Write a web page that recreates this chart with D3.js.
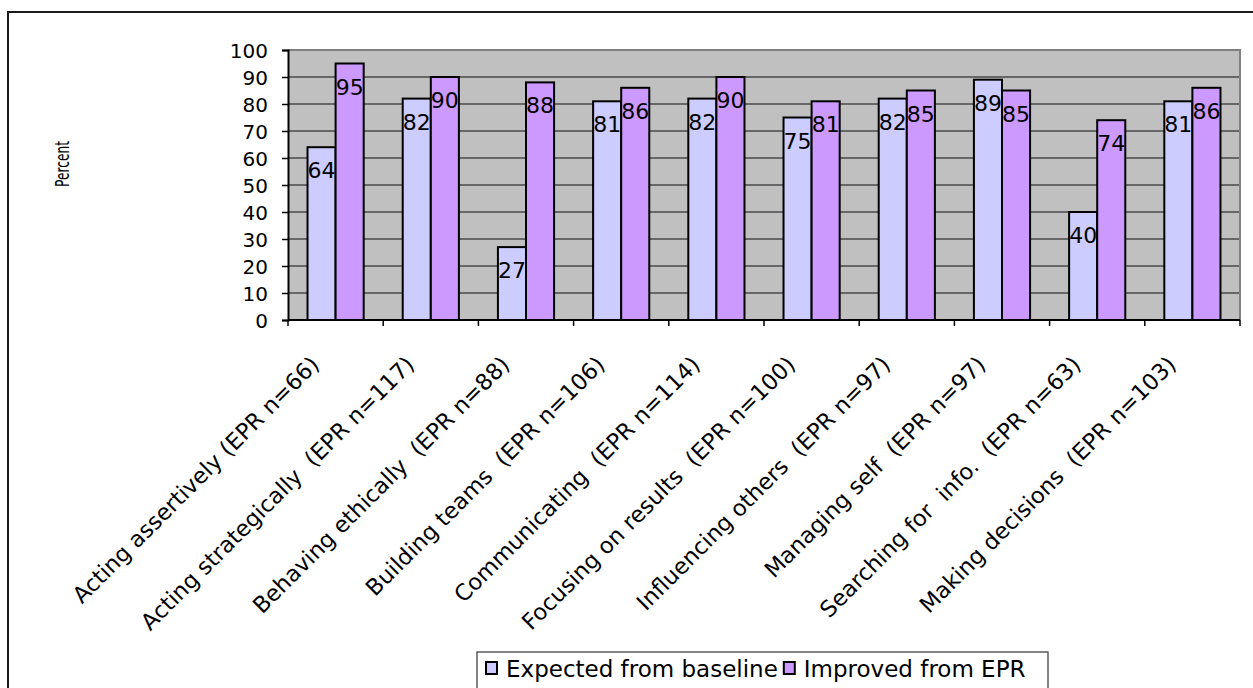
<!DOCTYPE html>
<html>
<head>
<meta charset="utf-8">
<script src="https://cdn.jsdelivr.net/npm/d3@7"></script>
<style>
  html, body { margin: 0; padding: 0; background: #fff; }
  svg { display: block; font-family: "DejaVu Sans", Verdana, sans-serif; }
  text { white-space: pre; }
</style>
</head>
<body>
<svg id="chart" width="1253" height="688"></svg>
<script>
// Competency categories (x axis)
const categories = [
  "Acting assertively (EPR n=66)",
  "Acting strategically  (EPR n=117)",
  "Behaving ethically  (EPR n=88)",
  "Building teams  (EPR n=106)",
  "Communicating  (EPR n=114)",
  "Focusing on results  (EPR n=100)",
  "Influencing others  (EPR n=97)",
  "Managing self  (EPR n=97)",
  "Searching for  info.  (EPR n=63)",
  "Making decisions  (EPR n=103)"
];
// Series values (percent)
const expectedFromBaseline = [64, 82, 27, 81, 82, 75, 82, 89, 40, 81];
const improvedFromEPR      = [95, 90, 88, 86, 90, 81, 85, 85, 74, 86];
const seriesNames = ["Expected from baseline", "Improved from EPR"];
const seriesColors = ["#CCCCFF", "#CC99FF"];
// Y axis ticks
const yTicks = [0, 10, 20, 30, 40, 50, 60, 70, 80, 90, 100];

const svg = d3.select("#chart");

// Outer chart frame
svg.append("rect")
  .attr("x", 8).attr("y", 12)
  .attr("width", 1260).attr("height", 700)
  .attr("fill", "#fff").attr("stroke", "#1a1a1a").attr("stroke-width", 2);

const plot = { left: 288, right: 1240, top: 50, bottom: 320 };

const x = d3.scaleBand()
  .domain(categories)
  .range([plot.left, plot.right])
  .paddingInner(0).paddingOuter(0);

const y = d3.scaleLinear().domain([0, 100]).range([plot.bottom, plot.top]);

const groupWidth = x.bandwidth() * 0.59;
const xs = d3.scaleBand()
  .domain(d3.range(seriesNames.length))
  .range([(x.bandwidth() - groupWidth) / 2, (x.bandwidth() + groupWidth) / 2]);

// Plot area background
svg.append("rect")
  .attr("x", plot.left).attr("y", plot.top)
  .attr("width", plot.right - plot.left).attr("height", plot.bottom - plot.top)
  .attr("fill", "#C0C0C0");

// Horizontal gridlines
svg.append("g")
  .selectAll("line")
  .data(yTicks.filter(t => t > 0 && t < 100))
  .join("line")
  .attr("x1", plot.left).attr("x2", plot.right)
  .attr("y1", d => y(d)).attr("y2", d => y(d))
  .attr("stroke", "#4a4a4a").attr("stroke-width", 1.3);

// Plot area border (top and right)
svg.append("path")
  .attr("d", `M${plot.left},${plot.top}H${plot.right}V${plot.bottom}`)
  .attr("fill", "none").attr("stroke", "#808080").attr("stroke-width", 2);

// Bars
const series = [expectedFromBaseline, improvedFromEPR];
const bars = [];
series.forEach((vals, si) => {
  vals.forEach((v, ci) => bars.push({ s: si, c: categories[ci], v }));
});

svg.append("g")
  .selectAll("rect")
  .data(bars)
  .join("rect")
  .attr("x", d => x(d.c) + xs(d.s))
  .attr("y", d => y(d.v))
  .attr("width", xs.bandwidth())
  .attr("height", d => y(0) - y(d.v))
  .attr("fill", d => seriesColors[d.s])
  .attr("stroke", "#000").attr("stroke-width", 2);

// Value labels inside the top of each bar
svg.append("g")
  .selectAll("text")
  .data(bars)
  .join("text")
  .attr("x", d => x(d.c) + xs(d.s) + xs.bandwidth() / 2)
  .attr("y", d => y(d.v) + 31)
  .attr("text-anchor", "middle")
  .attr("font-size", 22)
  .attr("fill", "#000")
  .text(d => d.v);

// Y axis
const yAxis = d3.axisLeft(y).tickValues(yTicks).tickSize(6).tickPadding(14);
const gy = svg.append("g")
  .attr("transform", `translate(${plot.left},0)`)
  .call(yAxis);
gy.select(".domain").attr("stroke", "#000").attr("stroke-width", 2);
gy.selectAll(".tick line").attr("stroke", "#000").attr("stroke-width", 1.5);
gy.selectAll(".tick text")
  .attr("font-size", 20).attr("fill", "#000")
  .attr("dy", "0.36em");
gy.attr("font-family", null);

// X axis
const gx = svg.append("g")
  .attr("transform", `translate(0,${plot.bottom})`);
gx.append("line")
  .attr("x1", plot.left).attr("x2", plot.right)
  .attr("y1", 0).attr("y2", 0)
  .attr("stroke", "#000").attr("stroke-width", 2);
const boundaries = categories.map(c => x(c)).concat([plot.right]);
gx.selectAll("line.tk")
  .data(boundaries)
  .join("line")
  .attr("class", "tk")
  .attr("x1", d => d).attr("x2", d => d)
  .attr("y1", 0).attr("y2", 6)
  .attr("stroke", "#000").attr("stroke-width", 1.5);

gx.selectAll("text")
  .data(categories)
  .join("text")
  .attr("transform", d => `translate(${x(d) + x.bandwidth() / 2 - 15},46) rotate(-45)`)
  .attr("text-anchor", "end")
  .attr("font-size", 22.5)
  .attr("fill", "#000")
  .text(d => d);

// Y axis title
svg.append("text")
  .attr("transform", "translate(69,164) rotate(-90)")
  .attr("text-anchor", "middle")
  .attr("font-size", 20)
  .attr("textLength", 46)
  .attr("lengthAdjust", "spacingAndGlyphs")
  .attr("fill", "#000")
  .text("Percent");

// Legend
const legend = svg.append("g");
legend.append("rect")
  .attr("x", 477).attr("y", 652)
  .attr("width", 571).attr("height", 40)
  .attr("fill", "#fff").attr("stroke", "#333").attr("stroke-width", 1.2);

let lx = 486;
seriesNames.forEach((name, i) => {
  legend.append("rect")
    .attr("x", lx).attr("y", 662)
    .attr("width", 11).attr("height", 12)
    .attr("fill", seriesColors[i]).attr("stroke", "#000").attr("stroke-width", 2);
  const t = legend.append("text")
    .attr("x", lx + 20).attr("y", 677)
    .attr("font-size", 23)
    .attr("fill", "#000")
    .text(name);
  lx = lx + 20 + t.node().getComputedTextLength() + 6;
});
</script>
</body>
</html>
